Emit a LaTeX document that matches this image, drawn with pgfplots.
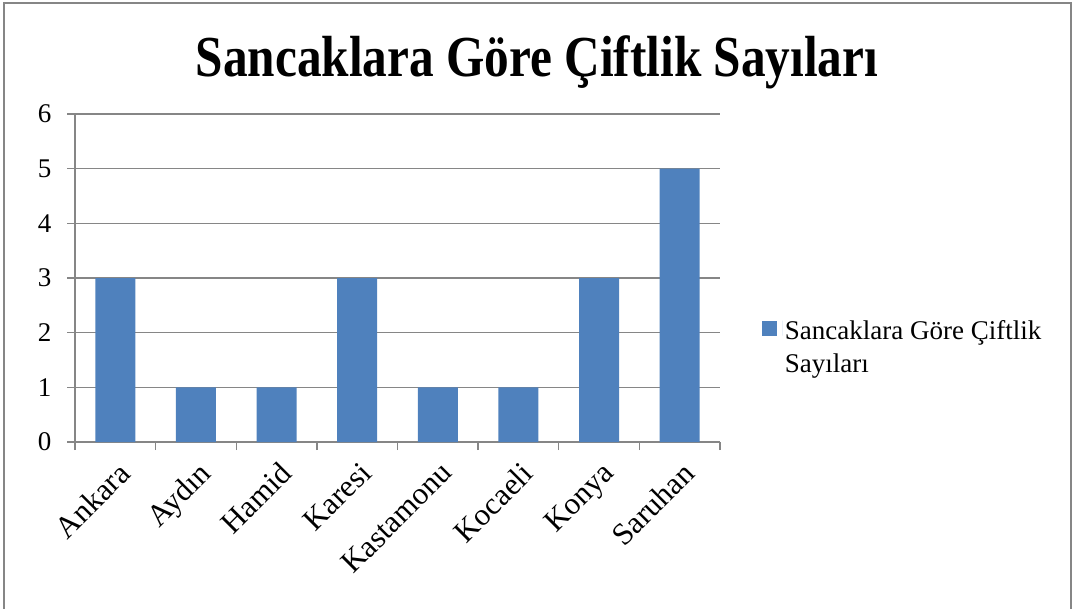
\documentclass[border=0pt]{standalone}
\usepackage{fontspec}
\setmainfont{Liberation Serif}
\usepackage{pgfplots}
\pgfplotsset{compat=1.18}
\definecolor{barblue}{HTML}{4F81BD}
\definecolor{gridgray}{HTML}{868686}
\begin{document}
\begin{tikzpicture}
\path[use as bounding box] (0,0) rectangle (1075pt,608pt);
\draw[gridgray, line width=1.5pt] (4pt,-5pt) -- (4pt,605pt) -- (1071pt,605pt) -- (1071pt,-5pt);
\node[anchor=base] at (537pt,531pt) {\scalebox{0.85}[1]{\fontsize{58}{64}\selectfont\bfseries Sancaklara Göre Çiftlik Sayıları}};
\begin{axis}[
  scale only axis,
  width=645pt, height=328pt,
  at={(75pt,166pt)}, anchor=south west,
  ybar, bar width=40pt,
  xmin=-0.5, xmax=7.5, ymin=0, ymax=6,
  ytick={0,1,2,3,4,5,6},
  xtick={0,1,2,3,4,5,6,7},
  xticklabels={Ankara,Aydın,Hamid,Karesi,Kastamonu,Kocaeli,Konya,Saruhan},
  minor xtick={-0.5,0.5,1.5,2.5,3.5,4.5,5.5,6.5,7.5},
  major x tick style={draw=none},
  minor tick length=8pt,
  major tick length=8pt,
  tick align=outside,
  tick style={gridgray, line width=1.3pt},
  axis x line*=bottom, axis y line*=left,
  axis line style={gridgray, line width=1.3pt, -},
  ymajorgrids, grid style={gridgray, line width=1.3pt},
  /pgf/number format/assume math mode=true,
  yticklabel style={font=\fontsize{27}{30}\selectfont, xshift=-12pt},
  xticklabel style={font=\fontsize{31}{33}\selectfont, rotate=45, anchor=north east, yshift=-5pt, xshift=-3pt},
  legend style={at={(1.06,0.288)}, anchor=west, draw=none, fill=none,
    font=\fontsize{27}{33}\selectfont, cells={align=left}},
  legend image code/.code={\fill[barblue] (0pt,12pt) rectangle (15pt,27pt); \path (21pt,12pt) -- (21pt,27pt);},
]
\addplot[fill=barblue, draw=none] coordinates {(0,3) (1,1) (2,1) (3,3) (4,1) (5,1) (6,3) (7,5)};
\addlegendentry{Sancaklara Göre Çiftlik\\Sayıları}
\end{axis}
\end{tikzpicture}
\end{document}
